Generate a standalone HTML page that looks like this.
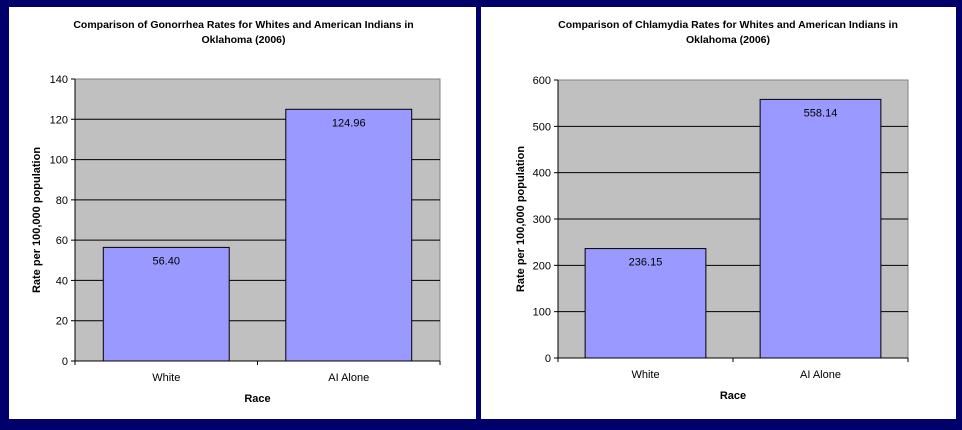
<!DOCTYPE html>
<html><head><meta charset="utf-8"><style>
html,body{margin:0;padding:0;background:#000070;}
svg{display:block;font-family:"Liberation Sans",sans-serif;}
</style></head><body>
<svg id="root" width="962" height="430" viewBox="0 0 962 430" xmlns="http://www.w3.org/2000/svg">
<rect x="0" y="0" width="962" height="430" fill="#00006a"/>
</svg>
<script>
const categories = ["White", "AI Alone"];
const gonorrheaValues = [56.40, 124.96];
const chlamydiaValues = [236.15, 558.14];
const gonorrheaTicks = [0, 20, 40, 60, 80, 100, 120, 140];
const chlamydiaTicks = [0, 100, 200, 300, 400, 500, 600];

const NS = "http://www.w3.org/2000/svg";
const root = document.getElementById("root");
function mk(tag, attrs, parent, text) {
  const e = document.createElementNS(NS, tag);
  for (const k in attrs) e.setAttribute(k, attrs[k]);
  if (text !== undefined) e.textContent = text;
  parent.appendChild(e);
  return e;
}

function drawChart(cfg, values, ticks) {
  const g = mk("g", {}, root);
  
  
  const panel = mk("rect", {x: cfg.px, y: 7, width: cfg.pw, height: 412, fill: "#ffffff"}, g);
  
  
  const cx = (cfg.x0 + cfg.x1) / 2 + cfg.titleShift;
  const t1 = mk("text", {x: cx, y: 28, "text-anchor": "middle", "font-size": 10.5, "font-weight": "bold", fill: "#000"}, g, cfg.title1);
  
  
  const t2 = mk("text", {x: cx, y: 43, "text-anchor": "middle", "font-size": 10.5, "font-weight": "bold", fill: "#000"}, g, "Oklahoma (2006)");
  
  
  const max = ticks[ticks.length - 1];
  const y = v => cfg.y0 - (v / max) * (cfg.y0 - cfg.y1);
  const plot = mk("rect", {x: cfg.x0, y: cfg.y1, width: cfg.x1 - cfg.x0, height: cfg.y0 - cfg.y1, fill: "#c0c0c0", stroke: "#808080", "stroke-width": 1}, g);
  
  
  ticks.forEach(tv => {
    const yy = y(tv);
    if (tv > 0 && tv < max) {
      const gl = mk("line", {x1: cfg.x0, x2: cfg.x1, y1: yy, y2: yy, stroke: "#000", "stroke-width": 1}, g);
      
      
    }
    mk("line", {x1: cfg.x0 - 4, x2: cfg.x0, y1: yy, y2: yy, stroke: "#000"}, g);
    const tl = mk("text", {x: cfg.x0 - 7, y: yy + 4, "text-anchor": "end", "font-size": 11, fill: "#000"}, g, String(tv));
    
    
  });
  const n = categories.length;
  const band = (cfg.x1 - cfg.x0) / n;
  const bw = band * cfg.barFrac;
  values.forEach((v, i) => {
    const bx = cfg.x0 + band * i + (band - bw) / 2;
    const b = mk("rect", {x: bx, y: y(v), width: bw, height: cfg.y0 - y(v), fill: "#9999ff", stroke: "#000", "stroke-width": 1}, g);
    
    
    const vl = mk("text", {x: bx + bw / 2, y: y(v) + 17, "text-anchor": "middle", "font-size": 11, fill: "#000"}, g, v.toFixed(2));
    
    
    const cl = mk("text", {x: bx + bw / 2, y: cfg.y0 + 20, "text-anchor": "middle", "font-size": 11, fill: "#000"}, g, categories[i]);
    
    
  });
  mk("line", {x1: cfg.x0, x2: cfg.x0, y1: cfg.y1, y2: cfg.y0, stroke: "#000"}, g);
  const ax = mk("line", {x1: cfg.x0, x2: cfg.x1, y1: cfg.y0, y2: cfg.y0, stroke: "#000"}, g);
  
  
  for (let i = 0; i <= n; i++) {
    const xx = cfg.x0 + band * i;
    mk("line", {x1: xx, x2: xx, y1: cfg.y0, y2: cfg.y0 + 4, stroke: "#000"}, g);
  }
  const xt = mk("text", {x: (cfg.x0 + cfg.x1) / 2, y: cfg.y0 + 41, "text-anchor": "middle", "font-size": 11, "font-weight": "bold", fill: "#000"}, g, "Race");
  
  
  const ymid = (cfg.y0 + cfg.y1) / 2;
  const yt = mk("text", {x: cfg.yTitleX, y: ymid, "text-anchor": "middle", "font-size": 11, "font-weight": "bold", fill: "#000", transform: "rotate(-90 " + cfg.yTitleX + " " + ymid + ")"}, g, "Rate per 100,000 population");
  
  
}

drawChart({name: "gonorrhea-chart", px: 9, pw: 467, x0: 75, x1: 440, y0: 361, y1: 79, barFrac: 0.69, title1: "Comparison of Gonorrhea Rates for Whites and American Indians in", titleShift: -14, yTitleX: 40}, gonorrheaValues, gonorrheaTicks);
drawChart({name: "chlamydia-chart", px: 481, pw: 475, x0: 558, x1: 908, y0: 358, y1: 80, barFrac: 0.69, title1: "Comparison of Chlamydia Rates for Whites and American Indians in", titleShift: -5, yTitleX: 524}, chlamydiaValues, chlamydiaTicks);
</script>
</body></html>
